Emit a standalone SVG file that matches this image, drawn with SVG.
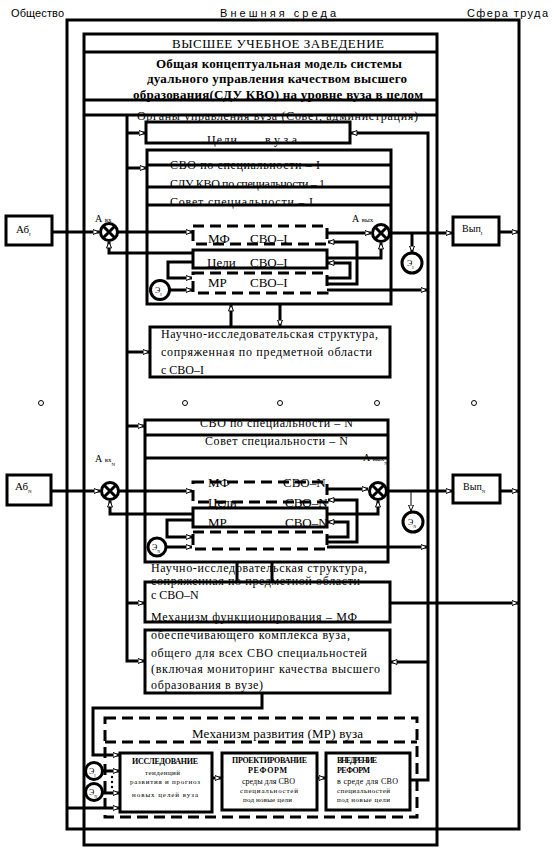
<svg xmlns="http://www.w3.org/2000/svg" width="556" height="855" viewBox="0 0 556 855">
<defs>
<marker id="ar" viewBox="0 0 7 6" refX="6.5" refY="3" markerWidth="7" markerHeight="6" orient="auto" markerUnits="userSpaceOnUse"><path d="M0.5,0.5 L6.5,3 L0.5,5.5 Z" fill="#fff" stroke="#000" stroke-width="1"/></marker>
</defs>
<style>
.b{fill:none;stroke:#000;stroke-width:3}
.w{fill:#fff;stroke:#000;stroke-width:3}
.d{fill:none;stroke:#000;stroke-width:3;stroke-dasharray:11 6}
.c{fill:none;stroke:#000;stroke-width:3}
.th{fill:none;stroke:#000;stroke-width:1}
.a{marker-end:url(#ar)}
.x{stroke:#000;stroke-width:3}
.t{font-family:"Liberation Serif","Times New Roman",serif;font-size:12px;fill:#000}
.s{font-family:"Liberation Sans",Arial,sans-serif;font-size:11px;fill:#000}
.m{font-size:13px}
.bd{font-weight:bold}
.f11{font-size:11px}
.f10{font-size:10px}
.f8{font-size:8px}
.sm{font-size:7px}
.e{font-size:8px}
.dot{fill:#fff;stroke:#000;stroke-width:1}
</style>
<rect width="556" height="855" fill="#fff"/>

<g id="env-labels">
<text class="s" x="11" y="17" textLength="53">Общество</text>
<text class="s" x="220" y="17" textLength="116">Внешняя среда</text>
<text class="s" x="467" y="17" textLength="81">Сфера труда</text>
</g>

<g id="outer"><rect class="b" x="67" y="20" width="452" height="809"/></g>

<g id="vuz">
<rect class="b" x="84" y="34" width="353" height="811"/>
<path class="c" d="M84,52H437M84,100H437M84,115H437"/>
<text class="t m" x="172" y="48" textLength="212">ВЫСШЕЕ  УЧЕБНОЕ  ЗАВЕДЕНИЕ</text>
<text class="t m bd" x="156" y="68" textLength="246">Общая концептуальная модель системы</text>
<text class="t m bd" x="147" y="83" textLength="260">дуального управления качеством высшего</text>
<text class="t m bd" x="133" y="99" textLength="290">образования(СДУ КВО) на уровне вуза в целом</text>
<text class="t" x="137" y="120" textLength="281">Органы управления вуза (Совет, администрация)</text>
</g>

<g id="tseli-vuza">
<rect class="b" x="146" y="122" width="204" height="21"/>
<text class="t" x="207" y="144" textLength="30">Ц е л и</text>
<text class="t" x="265" y="144" textLength="32">в у з а</text>
</g>

<g id="svo-1">
<rect class="b" x="147" y="150" width="244" height="154"/>
<path class="c" d="M147,165H391M147,187H391M147,205H391"/>
<text class="t" x="170" y="169" textLength="150">СВО по специальности – I</text>
<text class="t" x="170" y="188" textLength="155">СЛУ КВО по специальности – 1</text>
<text class="t" x="170" y="206" textLength="143">Совет  специальности – I</text>
</g>

<g id="ni-1">
<rect class="b" x="150" y="327" width="240" height="50"/>
<text class="t" x="161" y="338" textLength="217">Научно-исследовательская структура,</text>
<text class="t" x="161" y="356" textLength="211">сопряженная по предметной области</text>
<text class="t" x="161" y="374">с СВО–I</text>
</g>

<g id="svo-n">
<rect class="b" x="145" y="420" width="243" height="142"/>
<path class="c" d="M145,435H388M145,458H388"/>
<text class="t" x="200" y="427" textLength="153">СВО по специальности – N</text>
<text class="t" x="205" y="445" textLength="143">Совет специальности – N</text>
</g>

<g id="ni-n">
<rect class="b" x="145" y="582" width="245" height="40"/>
<text class="t" x="151" y="572" textLength="216">Научно-исследовательская структура,</text>
<text class="t" x="151" y="585" textLength="209">сопряженная по предметной области</text>
<text class="t" x="151" y="599">с СВО–N</text>
<text class="t" x="151" y="621" textLength="206">Механизм функционирования – МФ</text>
</g>

<g id="mf-vuz">
<rect class="b" x="145" y="630" width="245" height="63"/>
<text class="t" x="151" y="639" textLength="199">обеспечивающего комплекса вуза,</text>
<text class="t" x="151" y="657" textLength="216">общего для всех СВО специальностей</text>
<text class="t" x="151" y="673" textLength="229">(включая мониторинг качества высшего</text>
<text class="t" x="151" y="689" textLength="112">образования в вузе)</text>
</g>

<g id="mr-vuz">
<rect class="d" x="105" y="718" width="312" height="99"/>
<path class="d" d="M105,742H417"/>
<text class="t m" x="192" y="738" textLength="171">Механизм развития (МР) вуза</text>
</g>

<g id="issl">
<rect class="w" x="120" y="753" width="92" height="59"/>
<text class="t bd f8" x="132" y="764" textLength="66">ИССЛЕДОВАНИЕ</text>
<text class="t sm" x="145" y="775" textLength="35">тенденций</text>
<text class="t sm" x="130" y="784" textLength="70">развития и прогноз</text>
<text class="t sm" x="132" y="797" textLength="66">новых целей вуза</text>
</g>

<g id="proekt">
<rect class="w" x="222" y="753" width="95" height="57"/>
<text class="t bd f8" x="232" y="763" textLength="75">ПРОЕКТИРОВАНИЕ</text>
<text class="t bd f8" x="248" y="773" textLength="39">РЕФОРМ</text>
<text class="t f8" x="242" y="784" textLength="53">среды для СВО</text>
<text class="t sm" x="240" y="793" textLength="58">специальностей</text>
<text class="t sm" x="243" y="802" textLength="49">под новые цели</text>
</g>

<g id="vnedr">
<rect class="w" x="326" y="753" width="84" height="57"/>
<text class="t bd f8" x="337" y="763" textLength="40">ВНЕДРЕНИЕ</text>
<text class="t bd f8" x="337" y="773" textLength="33">РЕФОРМ</text>
<text class="t f8" x="337" y="784" textLength="61">в среде для СВО</text>
<text class="t sm" x="337" y="793" textLength="53">специальностей</text>
<text class="t sm" x="337" y="802" textLength="53">под новые цели</text>
</g>

<g id="connectors">
<path class="c a" d="M127,115V661H144"/>
<path class="c a" d="M127,133H145"/>
<path class="c a" d="M127,168H146"/>
<path class="c a" d="M127,352H149"/>
<path class="c a" d="M127,426H144"/>
<path class="c a" d="M127,603H144"/>
<path class="c a" d="M410,780H428V133H351"/>
<path class="c a" d="M428,662H391"/>
<path class="c a" d="M327,290H427"/>
<path class="c a" d="M327,547H427"/>
<path class="c a" d="M390,603H518"/>
<path class="c a" d="M52,232H99"/>
<path class="c a" d="M118,232H192"/>
<path class="c a" d="M193,253H109V242"/>
<path class="c a" d="M193,262H168V278H192"/>
<path class="c a" d="M170,290H192"/>
<path class="c a" d="M327,233H371"/>
<path class="c a" d="M327,284H357V242H328"/>
<path class="c a" d="M327,278H350V263H328"/>
<path class="c a" d="M327,258H381V243"/>
<path class="c a" d="M390,233H452"/>
<path class="c a" d="M412,233V252"/>
<path class="c a" d="M499,232H518"/>
<path class="c a" d="M231,327V305"/>
<path class="c a" d="M280,304V326"/>
<path class="c a" d="M51,491H100"/>
<path class="c a" d="M119,491H192"/>
<path class="c a" d="M193,514H110V501"/>
<path class="c a" d="M193,520H167V537H192"/>
<path class="c a" d="M166,547H192"/>
<path class="c a" d="M327,489H368"/>
<path class="c a" d="M327,542H357V500H328"/>
<path class="c a" d="M327,537H348V522H328"/>
<path class="c a" d="M327,514H378V501"/>
<path class="c a" d="M388,491H452"/>
<path class="th a" d="M411,491V511"/>
<path class="c a" d="M500,491H518"/>
<path class="c" d="M237,563V582M272,563V582"/>
<path class="c a" d="M262,693V708H93V755H119"/>
<path class="c a" d="M103,771H119"/>
<path class="c a" d="M103,793H119"/>
<path class="c a" d="M66,808H119"/>
<path class="c a" d="M212,778H221"/>
<path class="c a" d="M317,778H325"/>
</g>

<g id="mf-1"><rect class="d" x="193" y="226" width="134" height="18"/>
<text class="t m" x="208" y="243">МФ</text><text class="t m" x="250" y="243">СВО–I</text></g>
<g id="tseli-1"><rect class="b" x="193" y="250" width="134" height="18"/>
<text class="t m" x="207" y="267">Цели</text><text class="t m" x="250" y="267">СВО–I</text></g>
<g id="mr-1"><rect class="d" x="193" y="273" width="134" height="20"/>
<text class="t m" x="208" y="287">МР</text><text class="t m" x="250" y="287">СВО–I</text></g>

<g id="mf-n"><rect class="d" x="193" y="482" width="134" height="20"/>
<text class="t m" x="208" y="487">МФ</text><text class="t m" x="283" y="487">СВО–N</text></g>
<g id="tseli-n"><rect class="b" x="193" y="508" width="134" height="19"/>
<text class="t m" x="208" y="507">Цели</text><text class="t m" x="285" y="507">СВО–N</text></g>
<g id="mr-n"><rect class="d" x="193" y="532" width="134" height="17"/>
<text class="t m" x="208" y="527">МР</text><text class="t m" x="285" y="527">СВО–N</text></g>

<g id="ab-1"><rect class="w" x="6" y="216" width="46" height="29"/>
<text class="t f11" x="16" y="233">Аб<tspan font-size="5" dy="3">I</tspan></text></g>
<g id="ab-n"><rect class="w" x="7" y="475" width="44" height="30"/>
<text class="t f11" x="15" y="490">Аб<tspan font-size="5" dy="3">N</tspan></text></g>
<g id="vyp-1"><rect class="w" x="453" y="217" width="46" height="28"/>
<text class="t f10" x="462" y="232">Вып<tspan font-size="5" dy="3">I</tspan></text></g>
<g id="vyp-n"><rect class="w" x="453" y="475" width="47" height="28"/>
<text class="t f10" x="463" y="490">Вып<tspan font-size="5" dy="3">N</tspan></text></g>

<g id="a-vx-1"><circle class="w" cx="109" cy="232" r="8.5"/><path class="x" d="M103,226L115,238M115,226L103,238"/>
<text class="t f10" x="95" y="222">А <tspan font-size="7">вх</tspan></text></g>
<g id="a-vyx-1"><circle class="w" cx="381" cy="233" r="8.5"/><path class="x" d="M375,227L387,239M387,227L375,239"/>
<text class="t f10" x="352" y="222">А <tspan font-size="7">вых</tspan></text></g>
<g id="a-vx-n"><circle class="w" cx="110" cy="491" r="8.5"/><path class="x" d="M104,485L116,497M116,485L104,497"/>
<text class="t f10" x="95" y="462">А <tspan font-size="7">вх</tspan><tspan font-size="5" dy="4">N</tspan></text></g>
<g id="a-vyx-n"><circle class="w" cx="378" cy="491" r="8.5"/><path class="x" d="M372,485L384,497M384,485L372,497"/>
<text class="t f10" x="363" y="461">А <tspan font-size="7">вых</tspan><tspan font-size="5" dy="4">N</tspan></text></g>

<g id="e-1-left"><circle class="w" cx="160" cy="290" r="9.5"/><text class="t e" x="155" y="293">Э<tspan font-size="4" dy="3">I</tspan></text></g>
<g id="e-1-right"><circle class="w" cx="412" cy="263" r="10"/><text class="t e" x="407" y="266">Э<tspan font-size="4" dy="3">I</tspan></text></g>
<g id="e-n-left"><circle class="w" cx="157" cy="547" r="9"/><text class="t e" x="152" y="550">Э<tspan font-size="4" dy="3">N</tspan></text></g>
<g id="e-n-right"><circle class="w" cx="413" cy="522" r="10"/><text class="t e" x="408" y="525">Э<tspan font-size="4" dy="3">N</tspan></text></g>
<g id="e-1-bottom"><circle class="w" cx="94" cy="771" r="8.5"/><text class="t e" x="89" y="774">Э<tspan font-size="4" dy="3">I</tspan></text></g>
<g id="e-n-bottom"><circle class="w" cx="94" cy="792" r="8.5"/><text class="t e" x="89" y="795">Э<tspan font-size="4" dy="3">N</tspan></text></g>
<g id="vdots"><circle cx="112" cy="777" r="1.2"/><circle cx="112" cy="782" r="1.2"/><circle cx="112" cy="787" r="1.2"/></g>

<g id="dots">
<circle class="dot" cx="41" cy="403" r="2.5"/>
<circle class="dot" cx="185" cy="403" r="2.5"/>
<circle class="dot" cx="280" cy="403" r="2.5"/>
<circle class="dot" cx="377" cy="403" r="2.5"/>
<circle class="dot" cx="474" cy="403" r="2.5"/>
</g>
</svg>
